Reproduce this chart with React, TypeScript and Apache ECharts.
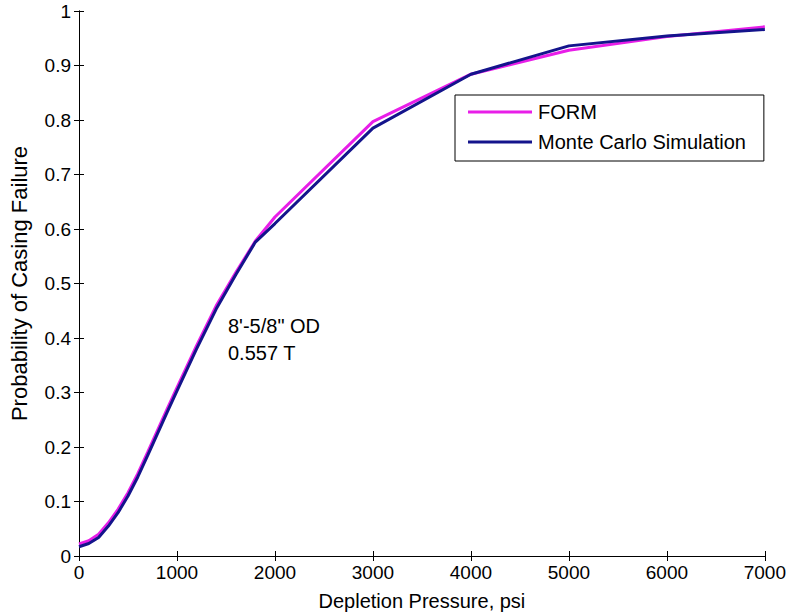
import React, { useEffect, useRef } from "react";
import * as echarts from "echarts";

// Depletion pressure (psi) sample points
const pressure = [0, 100, 200, 300, 400, 500, 600, 700, 800, 900, 1000, 1200, 1400, 1600, 1800, 2000, 3000, 4000, 5000, 6000, 7000];

// Probability of casing failure
const formValues = [0.022, 0.028, 0.04, 0.061, 0.086, 0.116, 0.151, 0.19, 0.23, 0.27, 0.309, 0.386, 0.459, 0.52, 0.578, 0.622, 0.797, 0.884, 0.928, 0.953, 0.971];
const monteCarloValues = [0.017, 0.023, 0.034, 0.055, 0.08, 0.11, 0.145, 0.184, 0.224, 0.264, 0.303, 0.38, 0.453, 0.516, 0.576, 0.61, 0.785, 0.884, 0.936, 0.954, 0.966];

const xTicks = [0, 1000, 2000, 3000, 4000, 5000, 6000, 7000];
const yTicks = [0, 0.1, 0.2, 0.3, 0.4, 0.5, 0.6, 0.7, 0.8, 0.9, 1];

const annotationLines = ["8'-5/8\" OD", "0.557 T"];

const FONT = "Arial, 'Liberation Sans', sans-serif";

export default function App() {
  const ref = useRef<HTMLDivElement>(null);

  useEffect(() => {
    if (!ref.current) return;
    const chart = echarts.init(ref.current, undefined, { renderer: "svg" });

    const pair = (vals: number[]) => pressure.map((p, i) => [p, vals[i]]);
    const axisLine = { show: true, lineStyle: { color: "#000", width: 1 } };
    const tick = { show: true, inside: true, length: 5, lineStyle: { color: "#000", width: 1 } };

    chart.setOption({
      animation: false,
      backgroundColor: "#fff",
      textStyle: { fontFamily: FONT },
      grid: { left: 74, right: 21, top: 11, bottom: 58, containLabel: false },
      legend: {
        left: 455,
        top: 95,
        orient: "vertical",
        backgroundColor: "#fff",
        borderColor: "#000",
        borderWidth: 1,
        borderRadius: 0,
        padding: [7, 18, 9, 13],
        itemGap: 10,
        itemWidth: 64,
        itemHeight: 3,
        icon: "rect",
        textStyle: { fontSize: 20, color: "#000", fontFamily: FONT, lineHeight: 20, padding: [0, 0, 0, 1] },
        data: ["FORM", "Monte Carlo Simulation"],
      },
      xAxis: [
        {
          type: "value",
          min: xTicks[0],
          max: xTicks[xTicks.length - 1],
          interval: 1000,
          position: "bottom",
          axisLine,
          axisTick: tick,
          splitLine: { show: false },
          axisLabel: {
            fontSize: 19,
            color: "#000",
            margin: 7,
            fontFamily: FONT,
            formatter: (v: number) => String(v),
          },
          name: "Depletion Pressure, psi",
          nameLocation: "middle",
          nameGap: 35,
          nameTextStyle: { fontSize: 20, color: "#000", fontFamily: FONT },
        },
        {
          type: "value",
          min: xTicks[0],
          max: xTicks[xTicks.length - 1],
          interval: 1000,
          position: "top",
          axisLine,
          axisTick: tick,
          splitLine: { show: false },
          axisLabel: { show: false },
        },
      ],
      yAxis: [
        {
          type: "value",
          min: yTicks[0],
          max: yTicks[yTicks.length - 1],
          interval: 0.1,
          position: "left",
          axisLine,
          axisTick: tick,
          splitLine: { show: false },
          axisLabel: {
            fontSize: 19,
            color: "#000",
            margin: 8,
            fontFamily: FONT,
            formatter: (v: number) => String(Math.round(v * 10) / 10),
          },
          name: "Probability of Casing Failure",
          nameLocation: "middle",
          nameGap: 49,
          nameTextStyle: { fontSize: 22, color: "#000", fontFamily: FONT },
        },
        {
          type: "value",
          min: yTicks[0],
          max: yTicks[yTicks.length - 1],
          interval: 0.1,
          position: "right",
          axisLine,
          axisTick: tick,
          splitLine: { show: false },
          axisLabel: { show: false },
        },
      ],
      graphic: [
        {
          type: "text",
          left: 228,
          top: 312,
          style: {
            text: annotationLines.join("\n"),
            font: `20px ${FONT}`,
            fill: "#000",
            lineHeight: 27,
          },
        },
      ],
      series: [
        {
          name: "FORM",
          type: "line",
          xAxisIndex: 0,
          yAxisIndex: 0,
          data: pair(formValues),
          symbol: "none",
          smooth: false,
          color: "#e81ee8",
          lineStyle: { color: "#e81ee8", width: 3 },
          z: 2,
        },
        {
          name: "Monte Carlo Simulation",
          type: "line",
          xAxisIndex: 0,
          yAxisIndex: 0,
          data: pair(monteCarloValues),
          symbol: "none",
          smooth: false,
          color: "#14148c",
          lineStyle: { color: "#14148c", width: 3 },
          z: 3,
        },
      ],
    });

    return () => chart.dispose();
  }, []);

  return <div ref={ref} style={{ width: 789, height: 616, position: "absolute", left: 0, top: 0 }} />;
}
